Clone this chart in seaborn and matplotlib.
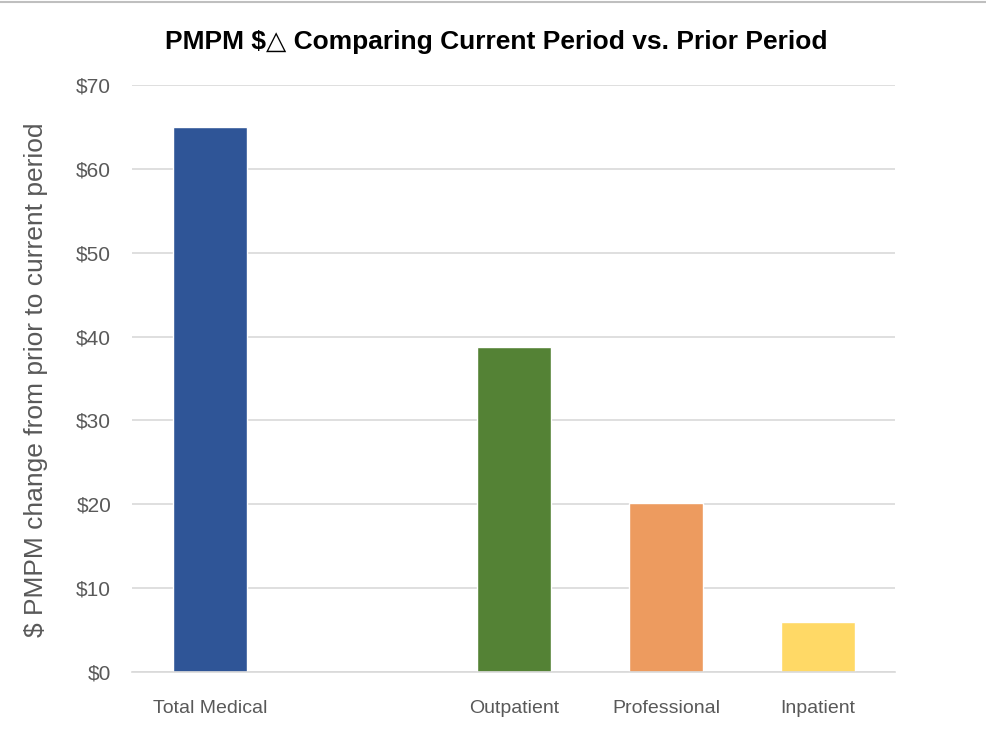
import matplotlib
matplotlib.use("Agg")
import matplotlib.pyplot as plt
import seaborn as sns
import pandas as pd
import numpy as np

categories = ["Total Medical", "Outpatient", "Professional", "Inpatient"]
order = ["Total Medical", " ", "Outpatient", "Professional", "Inpatient"]
values = [65, 38.8, 20.1, 6.0]
colors = ["#2F5597", "#548235", "#ED9B5F", "#FFD966"]
yticks = [0, 10, 20, 30, 40, 50, 60, 70]
ytick_labels = ["$0", "$10", "$20", "$30", "$40", "$50", "$60", "$70"]

sns.set_theme(style="white")
plt.rcParams['font.family'] = ['Liberation Sans', 'DejaVu Sans']

df = pd.DataFrame({"category": categories, "value": values})

fig = plt.figure(figsize=(9.86, 7.43), dpi=100)
ax = fig.add_axes([132 / 986, 0.0956, (895 - 132) / 986, 0.79])

sns.barplot(data=df, x="category", y="value", hue="category", order=order,
            palette=dict(zip(categories, colors)), width=0.49, legend=False,
            saturation=1, ax=ax)

ax.set_ylim(0, 70)
ax.set_xlim(-0.513, 4.507)
ax.set_yticks(yticks)
ax.set_yticklabels(ytick_labels, fontsize=15, color="#595959")
ax.yaxis.grid(True, color="#D9D9D9", linewidth=1.2)
ax.set_axisbelow(True)
for s in ["top", "right", "left"]:
    ax.spines[s].set_visible(False)
ax.spines["bottom"].set_color("#D9D9D9")
ax.spines["bottom"].set_linewidth(1.2)
ax.tick_params(axis="x", length=0, pad=20)
ax.tick_params(axis="y", length=0, pad=15)

ax.set_xlabel("")
for lbl in ax.get_xticklabels():
    lbl.set_fontsize(14)
    lbl.set_color("#595959")

ax.set_ylabel("$ PMPM change from prior to current period", fontsize=19,
              color="#595959")
ax.yaxis.set_label_coords(-0.110, 0.497)

fig.text(0.503, 0.943, "PMPM $△ Comparing Current Period vs. Prior Period",
         ha="center", va="center", fontsize=19, fontweight="bold",
         family=['Liberation Sans', 'DejaVu Sans'], color="black")

fig.add_artist(plt.Line2D([0, 1], [0.997, 0.997], color="#BFBFBF", linewidth=1.5,
                          transform=fig.transFigure))

fig.savefig("out.png", dpi=100)
